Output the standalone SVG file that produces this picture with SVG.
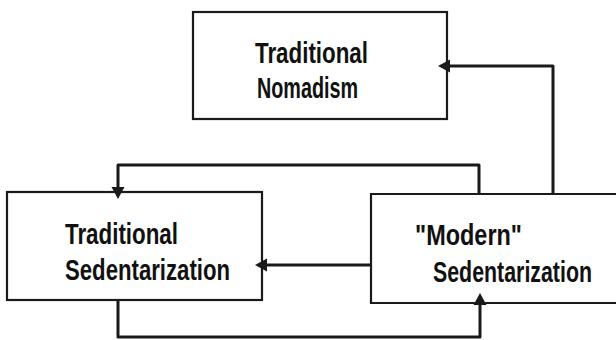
<svg xmlns="http://www.w3.org/2000/svg" width="616" height="340" viewBox="0 0 616 340">
<style>
.box{fill:#fff;stroke:#1a1a1a;stroke-width:2.2}
.lbl{font-family:"Liberation Sans",Arial,sans-serif;font-size:22px;font-weight:bold;fill:#111}
.con{fill:none;stroke:#1a1a1a;stroke-width:3;stroke-linejoin:round}
</style>
<defs>
<marker id="ah" markerUnits="userSpaceOnUse" markerWidth="14" markerHeight="14" refX="0" refY="7" orient="auto">
<path d="M0,0.5 L12,7 L0,13.5 z" fill="#1a1a1a"/>
</marker>
</defs>
<rect width="616" height="340" fill="#fff"/>
<g id="node-nomadism">
<rect class="box" x="193" y="12" width="254" height="107"/>
<text class="lbl" transform="translate(255,63) scale(1,1.32)" textLength="113" lengthAdjust="spacingAndGlyphs">Traditional</text>
<text class="lbl" transform="translate(257,98) scale(1,1.32)" textLength="101" lengthAdjust="spacingAndGlyphs">Nomadism</text>
</g>
<g id="node-trad-sed">
<rect class="box" x="7" y="192" width="255" height="108"/>
<text class="lbl" transform="translate(65,244) scale(1,1.32)" textLength="113" lengthAdjust="spacingAndGlyphs">Traditional</text>
<text class="lbl" transform="translate(65,280) scale(1,1.32)" textLength="165" lengthAdjust="spacingAndGlyphs">Sedentarization</text>
</g>
<g id="node-modern-sed">
<path class="box" d="M616,194 H371 V303 H616"/>
<text class="lbl" transform="translate(415,245) scale(1,1.32)" textLength="107" lengthAdjust="spacingAndGlyphs">"Modern"</text>
<text class="lbl" transform="translate(433,282) scale(1,1.32)" textLength="159" lengthAdjust="spacingAndGlyphs">Sedentarization</text>
</g>
<g id="connectors">
<path class="con" d="M553,194 V66 H450" marker-end="url(#ah)"/>
<path class="con" d="M479,194 V165 H118 V187" marker-end="url(#ah)"/>
<path class="con" d="M371,265 H267" marker-end="url(#ah)"/>
<path class="con" d="M118,300 V337 H480 V305" marker-end="url(#ah)"/>
</g>
</svg>
